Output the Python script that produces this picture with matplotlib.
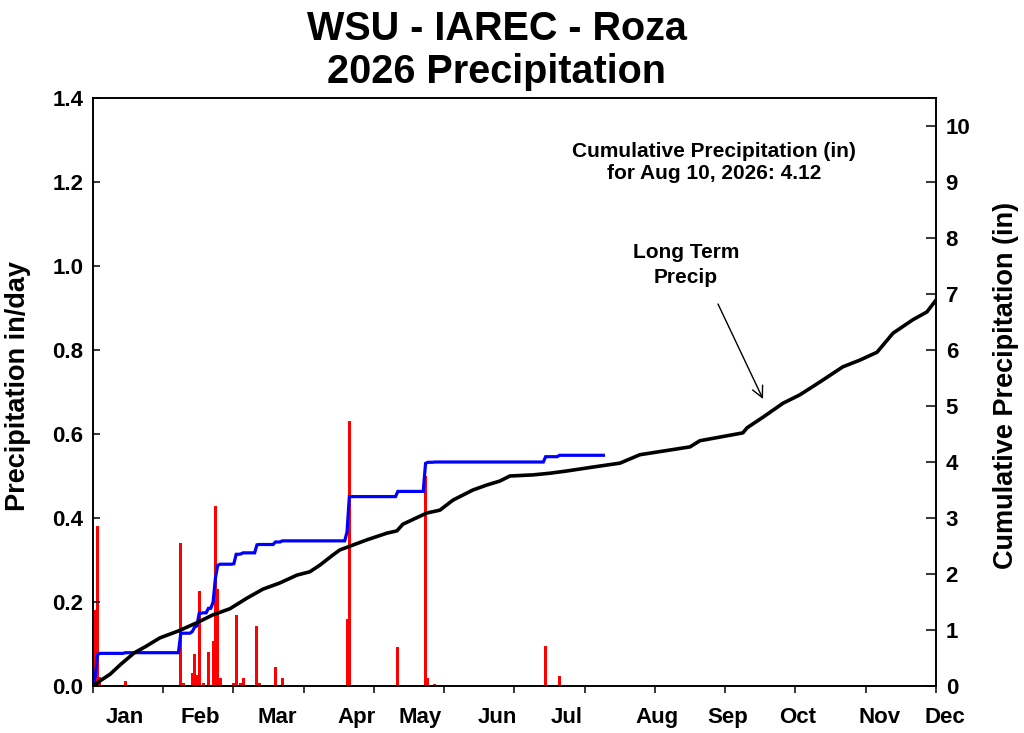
import matplotlib

matplotlib.use("Agg")
import matplotlib.pyplot as plt
import matplotlib.transforms as mtransforms
import numpy as np

# daily precipitation (in/day), day of year -> amount
rain_days = [1, 2, 3, 14, 38, 39, 43, 44, 45, 46, 48, 50, 52, 53, 54, 55,
             61, 62, 64, 65, 71, 72, 79, 82, 110, 111, 132, 144, 145, 148,
             196, 202]
rain_amounts = [0.18, 0.381, 0.022, 0.012, 0.34, 0.008, 0.03, 0.076, 0.026,
                0.226, 0.006, 0.081, 0.107, 0.429, 0.231, 0.02, 0.008, 0.169,
                0.006, 0.02, 0.143, 0.006, 0.045, 0.02, 0.16, 0.63, 0.093,
                0.50, 0.02, 0.005, 0.095, 0.025]
last_day = 221  # Aug 10

# long term cumulative precipitation (in)
lt_days = [0, 3.0, 7.4, 12.1, 17.8, 23.0, 29.0, 36.8, 45.0, 51.9, 59.3, 66.7,
           73.6, 80.9, 88.3, 93.9, 98.3, 103.9, 106.9, 118.6, 127.3, 131.6,
           134.2, 144.6, 150.2, 155.9, 164.5, 170.6, 176.2, 180.5, 190.5,
           197.9, 205.2, 216.5, 228.2, 236.8, 258.5, 262.8, 281.4, 283.2,
           290.1, 298.8, 306.1, 314.8, 324.7, 332.1, 339.5, 346.4, 355.0,
           361.1, 365.0]
lt_cum = [0, 0.09, 0.21, 0.39, 0.59, 0.71, 0.86, 0.98, 1.13, 1.27, 1.38, 1.57,
          1.73, 1.84, 1.98, 2.04, 2.16, 2.34, 2.43, 2.61, 2.73, 2.77, 2.89,
          3.09, 3.14, 3.32, 3.50, 3.59, 3.66, 3.75, 3.77, 3.80, 3.84, 3.91,
          3.98, 4.13, 4.27, 4.38, 4.52, 4.61, 4.80, 5.05, 5.20, 5.43, 5.70,
          5.82, 5.96, 6.30, 6.54, 6.68, 6.89]

months = ["Jan", "Feb", "Mar", "Apr", "May", "Jun", "Jul", "Aug", "Sep",
          "Oct", "Nov", "Dec"]
month_label_days = [13.9, 46.3, 79.7, 114.3, 141.6, 174.9, 205.2, 244.2,
                    274.9, 305.2, 340.7, 368.8]

plt.rcParams["font.family"] = ["Liberation Sans", "DejaVu Sans"]
plt.rcParams["font.weight"] = "bold"

# this year's running total
daily = np.zeros(last_day + 1)
daily[rain_days] = rain_amounts
cum_days = np.arange(last_day + 1)
cum_this_year = np.cumsum(daily)

fig = plt.figure(figsize=(10.24, 7.33), dpi=100)
ax1 = fig.add_axes([0.0908, 0.0641, 0.8232, 0.8022])
ax2 = ax1.twinx()

ax1.bar(rain_days, rain_amounts, width=1.3, color="#ff0000", linewidth=0)
ax2.plot(cum_days, cum_this_year, color="#0000ff", lw=2.3, solid_joinstyle="miter")
ax2.plot(lt_days, lt_cum, color="black", lw=2.6)

ax1.set_xlim(0, 365)
ax1.set_ylim(0, 1.4)
ax2.set_ylim(0, 10.5)

ax1.set_xticks(np.linspace(0, 365, 13))
ax1.set_xticklabels([])
ax1.set_yticks(np.arange(0, 1.41, 0.2))
ax1.set_yticklabels([f"{v:.1f}" for v in np.arange(0, 1.41, 0.2)])
ax2.set_yticks(range(0, 11))

ax1.tick_params(axis="x", direction="out", length=5, width=1.1)
ax1.tick_params(axis="y", direction="in", length=5, width=1.1, labelsize=16, pad=7)
ax2.tick_params(axis="y", direction="in", length=7, width=1.1, labelsize=16, pad=7)

for ax in (ax1, ax2):
    for sp in ax.spines.values():
        sp.set_linewidth(1.2)

# month names sit between / on the ticks like the original
trans = mtransforms.blended_transform_factory(ax1.transData, ax1.transAxes)
for name, d in zip(months, month_label_days):
    ax1.text(d, -0.053, name, transform=trans, ha="center", va="center",
             fontsize=16, fontweight="bold", clip_on=False)

fig.text(0.485, 0.960, "WSU - IAREC - Roza", ha="center", va="center",
         fontsize=28.5, fontweight="bold")
fig.text(0.485, 0.902, "2026 Precipitation", ha="center", va="center",
         fontsize=28.5, fontweight="bold")

fig.text(0.018, 0.474, "Precipitation in/day", rotation=90, ha="center",
         va="center", fontsize=19.5, fontweight="bold")
fig.text(0.982, 0.474, "Cumulative Precipitation (in)", rotation=90,
         ha="center", va="center", fontsize=19.5, fontweight="bold")

fig.text(0.697, 0.778, "Cumulative Precipitation (in)\nfor Aug 10, 2026: 4.12",
         ha="center", va="center", fontsize=15, fontweight="bold",
         linespacing=1.2)

fig.text(686 / 1024, 1 - 265 / 733, "Long Term\nPrecip", ha="center",
         va="center", fontsize=15, fontweight="bold", linespacing=1.45)
ax1.annotate("", xy=(763 / 1024, 1 - 399 / 733),
             xytext=(718 / 1024, 1 - 304 / 733), xycoords="figure fraction",
             textcoords="figure fraction",
             arrowprops=dict(arrowstyle="->", color="black", lw=1,
                             shrinkA=0, shrinkB=0, mutation_scale=20))

fig.savefig("out.png", dpi=100)
